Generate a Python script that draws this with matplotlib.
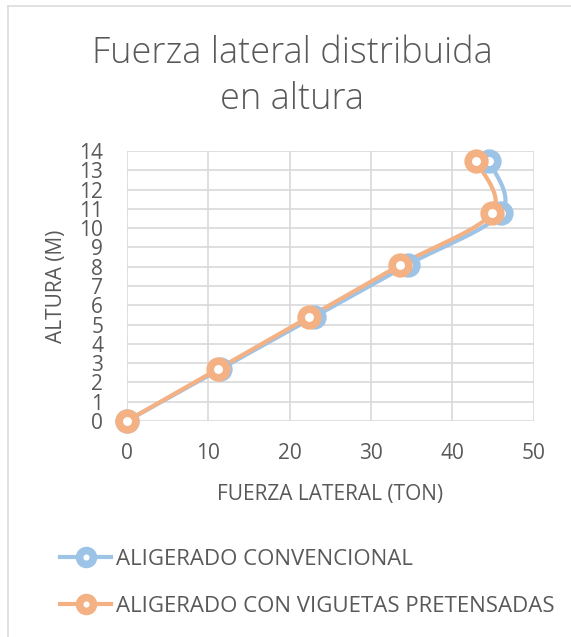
import numpy as np
import matplotlib.pyplot as plt
from matplotlib.lines import Line2D

# Altura de cada nivel (m) y fuerza lateral (ton)
altura = [0, 2.7, 5.4, 8.1, 10.8, 13.5]
fuerza_convencional = [0, 11.5, 23.0, 34.5, 46.0, 44.5]
fuerza_pretensadas = [0, 11.2, 22.4, 33.6, 44.9, 42.9]

x_ticks = [0, 10, 20, 30, 40, 50]
y_ticks = list(range(0, 15))


def smooth(xs, ys, n=30):
    # Catmull-Rom por tramos, como la "linea suavizada" de Excel
    px = np.array(xs, dtype=float)
    py = np.array(ys, dtype=float)
    px = np.concatenate([[px[0]], px, [px[-1]]])
    py = np.concatenate([[py[0]], py, [py[-1]]])
    out_x, out_y = [], []
    t = np.linspace(0, 1, n)
    for i in range(1, len(px) - 2):
        p0, p1, p2, p3 = [np.array([px[j], py[j]]) for j in range(i - 1, i + 3)]
        c1 = p1 + (p2 - p0) / 6
        c2 = p2 - (p3 - p1) / 6
        b = ((1 - t) ** 3)[:, None] * p1 + (3 * (1 - t) ** 2 * t)[:, None] * c1 \
            + (3 * (1 - t) * t ** 2)[:, None] * c2 + (t ** 3)[:, None] * p2
        out_x.extend(b[:, 0])
        out_y.extend(b[:, 1])
    return out_x, out_y


gray = '#595959'
font = 'Open Sans'
series = [
    ("ALIGERADO CONVENCIONAL", fuerza_convencional, '#9DC3E6'),
    ("ALIGERADO CON VIGUETAS PRETENSADAS", fuerza_pretensadas, '#F4B183'),
]

fig = plt.figure(figsize=(5.71, 6.37), dpi=100)

# borde del area del grafico (arriba e izquierda)
fig.add_artist(Line2D([8 / 571, 1], [1 - 6 / 637] * 2, color='#dcdcdc', lw=1.2))
fig.add_artist(Line2D([8 / 571] * 2, [0, 1 - 6 / 637], color='#dcdcdc', lw=1.2))

ax = fig.add_axes([0.222, 0.339, 0.713, 0.424])

handles = []
for name, fuerza, color in series:
    sx, sy = smooth(fuerza, altura)
    ax.plot(sx, sy, color=color, lw=3, solid_capstyle='round', zorder=3,
            clip_on=False)
    ax.plot(fuerza, altura, ls='none', marker='o', ms=12, mfc='white',
            mec=color, mew=5.5, zorder=4, clip_on=False)
    h, = ax.plot([], [], color=color, lw=3, marker='o', ms=10, mfc='white',
                 mec=color, mew=5.5)
    handles.append((h, name))

ax.set_xlim(0, 50)
ax.set_ylim(0, 14)
ax.set_xticks(x_ticks)
ax.set_yticks(y_ticks)
ax.grid(True, color='#d9d9d9', lw=1.2)
ax.set_axisbelow(True)
for s in ax.spines.values():
    s.set_visible(False)
ax.tick_params(length=0, labelsize=15, colors=gray)
ax.tick_params(axis='x', pad=16)
ax.tick_params(axis='y', pad=17)
for lab in ax.get_xticklabels() + ax.get_yticklabels():
    lab.set_fontfamily(font)

ax.set_xlabel("FUERZA LATERAL (TON)", fontsize=15, color=gray,
              fontfamily=font, labelpad=14)
ax.set_ylabel("ALTURA (M)", fontsize=15, color=gray,
              fontfamily=font, labelpad=9)

fig.text(0.512, 0.88, "Fuerza lateral distribuida\nen altura", ha='center',
         va='center', fontsize=26, color=gray, fontfamily=font,
         fontweight='light', linespacing=1.3)

fig.legend([h for h, _ in handles], [n for _, n in handles],
           loc='upper left', bbox_to_anchor=(0.09, 0.152), frameon=False,
           prop={'family': font, 'size': 16}, labelcolor=gray,
           handlelength=2.3, handletextpad=0.2, labelspacing=1.15,
           borderaxespad=0)

fig.savefig('out.png', dpi=100)
